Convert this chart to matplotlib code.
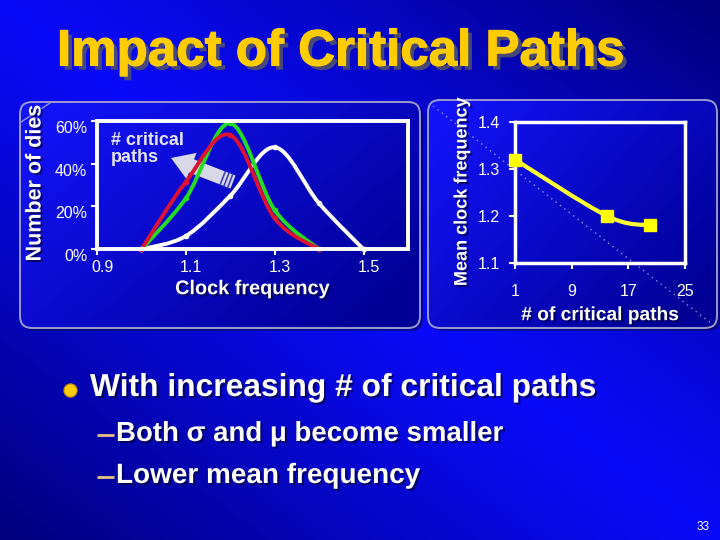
import numpy as np
import matplotlib
matplotlib.use("Agg")
import matplotlib.pyplot as plt
from matplotlib.patches import FancyBboxPatch, Polygon, PathPatch
from matplotlib.path import Path
from matplotlib.transforms import ScaledTranslation
import matplotlib.patheffects as pe

# ---------------- data ----------------
freq = [1.0, 1.1, 1.2, 1.3, 1.4, 1.5]
dies_white = [0, 6.2, 25.0, 47.6, 21.4, 0]      # 1 critical path
freq_short = [1.0, 1.1, 1.2, 1.3, 1.4]
dies_green = [0, 23.8, 58.8, 18.3, 0]
dies_red = [0, 31.5, 53.3, 14.4, 0]
left_xticks = [0.9, 1.1, 1.3, 1.5]
left_yticks = [0, 20, 40, 60]
left_yticklabels = ["0%", "20%", "40%", "60%"]

n_paths = [1, 14, 20]
mean_freq = [1.32, 1.20, 1.18]
right_xticks = [1, 9, 17, 25]
right_yticks = [1.1, 1.2, 1.3, 1.4]

title = "Impact of Critical Paths"
bullet = "With increasing # of critical paths"
sub1 = "Both \u03c3 and \u03bc become smaller"
sub2 = "Lower mean frequency"

W, H = 720, 540
fig = plt.figure(figsize=(7.2, 5.4), dpi=100)
SANS = ["Liberation Sans", "DejaVu Sans"]
plt.rcParams["font.family"] = SANS

# ---------------- background ----------------
bg = fig.add_axes([0, 0, 1, 1])
bg.set_xlim(0, W)
bg.set_ylim(H, 0)
bg.set_axis_off()
yy, xx = np.mgrid[0:H, 0:W]
d = np.abs(yy / H - xx / W)
bright = np.array([10, 10, 250]) / 255
dark = np.array([0, 0, 125]) / 255
t = np.clip(d, 0, 1) ** 1.1
img = bright[None, None, :] * (1 - t[..., None]) + dark[None, None, :] * t[..., None]
bg.imshow(img, extent=[0, W, H, 0], aspect="auto", zorder=0)


def panel(x0, y0, w, h):
    sh = FancyBboxPatch((x0 + 3, y0 + 3), w, h, boxstyle="round,pad=0,rounding_size=12",
                        fc=(0, 0, 0.25, 0.5), ec="none", zorder=1)
    bg.add_patch(sh)
    p = FancyBboxPatch((x0, y0), w, h, boxstyle="round,pad=0,rounding_size=12",
                       fc="none", ec="#9a9ad0", lw=1.4, zorder=3)
    bg.add_patch(p)
    gx = np.linspace(0, 1, 200)
    gy = np.linspace(0, 1, 100)
    GX, GY = np.meshgrid(gx, gy)
    tt = np.clip(0.65 * GX + 0.45 * GY, 0, 1)
    c0 = np.array([20, 20, 255]) / 255
    c1 = np.array([0, 0, 150]) / 255
    g = c0[None, None, :] * (1 - tt[..., None]) + c1[None, None, :] * tt[..., None]
    im = bg.imshow(g, extent=[x0, x0 + w, y0 + h, y0], aspect="auto", zorder=2)
    im.set_clip_path(p)


panel(20, 102, 400, 226)
panel(428, 100, 289, 228)

# decorative diagonals
bg.plot([433, 712], [106, 324], ls=(0, (1, 3)), color="#9090e0", lw=1.0, zorder=3)
bg.plot([21, 50], [122, 103], color="#9090e0", lw=1.0, zorder=3)

shadow = [pe.withSimplePatchShadow(offset=(1.5, -1.5), shadow_rgbFace="#000040", alpha=0.7)]


def fit(txt, width_px):
    fig.canvas.draw()
    r = fig.canvas.get_renderer()
    w = txt.get_window_extent(r).width
    txt.set_fontsize(txt.get_fontsize() * width_px / w)


# ---------------- title ----------------
tt_ = bg.text(57, 52, title, color="#FFCC00", fontsize=38, fontweight="bold",
              va="center", ha="left", zorder=5,
              path_effects=[pe.withSimplePatchShadow(offset=(3, -3), shadow_rgbFace="#505070", alpha=0.9),
                            pe.withStroke(linewidth=0.8, foreground="#FFCC00")])
fit(tt_, 566)

# ---------------- left chart ----------------
ax1 = fig.add_axes([97 / W, 1 - 249.3 / H, 311 / W, 128.6 / H])
ax1.set_facecolor("none")
ax1.set_xlim(0.9, 1.6)
ax1.set_ylim(0, 60)
for s in ax1.spines.values():
    s.set_color("white")
    s.set_linewidth(2.8)
ax1.set_xticks(left_xticks)
ax1.set_xticklabels([f"{v:.1f}" for v in left_xticks])
ax1.set_yticks(left_yticks)
ax1.set_yticklabels(left_yticklabels)
ax1.tick_params(colors="white", length=4, width=1.5, direction="out", labelsize=11.5, pad=3)
for lab in ax1.get_xticklabels():
    lab.set_transform(lab.get_transform() + ScaledTranslation(5 / 100, -1 / 100, fig.dpi_scale_trans))
for lab in ax1.get_yticklabels():
    lab.set_transform(lab.get_transform() + ScaledTranslation(0, -6 / 100, fig.dpi_scale_trans))
ax1.set_xlabel("Clock frequency", color="white", fontsize=14.3, fontweight="bold", labelpad=3)
ax1.xaxis.label.set_path_effects(shadow)


def smooth_path(xs, ys):
    xs = np.asarray(xs, float)
    ys = np.asarray(ys, float)
    P = np.column_stack([xs, ys])
    n = len(P)
    verts = [P[0]]
    codes = [Path.MOVETO]
    for i in range(n - 1):
        p0 = P[i - 1] if i > 0 else P[i]
        p1 = P[i]
        p2 = P[i + 1]
        p3 = P[i + 2] if i + 2 < n else P[i + 1]
        c1 = p1 + (p2 - p0) / 6.0
        c2 = p2 - (p3 - p1) / 6.0
        verts += [c1, c2, p2]
        codes += [Path.CURVE4] * 3
    return Path(verts, codes)


for xs, ys, col in [(freq, dies_white, "white"), (freq_short, dies_green, "#22dd22"),
                    (freq_short, dies_red, "#dd1133")]:
    ax1.add_patch(PathPatch(smooth_path(xs, ys), fc="none", ec=col, lw=2.8,
                            transform=ax1.transData, clip_on=False, capstyle="round"))
    ax1.plot(xs, ys, ls="none", marker="o", ms=3, color=col, clip_on=False)

fig.text(35 / W, 1 - 183 / H, "Number of dies", rotation=90, color="white", fontsize=15.5,
         fontweight="bold", ha="center", va="center", path_effects=shadow)

# arrow annotation
tip = np.array([171.0, 158.0])
tail = np.array([233.0, 182.0])
u = (tail - tip) / np.linalg.norm(tail - tip)
nrm = np.array([-u[1], u[0]])
hl, hw, sw = 22, 14, 7
pts = [tip, tip + u * hl + nrm * hw, tip + u * hl + nrm * sw, tail + nrm * sw,
       tail - nrm * sw, tip + u * hl - nrm * sw, tip + u * hl - nrm * hw]
bg.add_patch(Polygon(pts, closed=True, fc="#d8d8e8", ec="none", zorder=6))
for k in (3, 7, 11):
    a = tail - u * k + nrm * sw
    b = tail - u * k - nrm * sw
    bg.plot([a[0], b[0]], [a[1], b[1]], color="#4040c0", lw=1.2, zorder=7)
bg.text(111, 132, "# critical\npaths", color="#e4e4f4", fontsize=13, fontweight="bold",
        ha="left", va="top", linespacing=1.0, zorder=7)

# ---------------- right chart ----------------
ax2 = fig.add_axes([515 / W, 1 - 263 / H, 170 / W, 141 / H])
ax2.set_facecolor("none")
ax2.set_xlim(1, 25)
ax2.set_ylim(1.1, 1.4)
for s in ax2.spines.values():
    s.set_color("white")
    s.set_linewidth(2.5)
ax2.set_xticks(right_xticks)
ax2.set_xticklabels([str(v) for v in right_xticks])
ax2.set_yticks(right_yticks)
ax2.set_yticklabels([f"{v:.1f}" for v in right_yticks])
ax2.tick_params(colors="white", length=4, width=1.5, direction="out", labelsize=11.5)
ax2.tick_params(axis="x", pad=11)
ax2.tick_params(axis="y", pad=7)
ax2.add_patch(PathPatch(smooth_path(n_paths, mean_freq), fc="none", ec="#ffff33", lw=3,
                        transform=ax2.transData, clip_on=False))
ax2.plot(n_paths, mean_freq, ls="none", marker="s", ms=9, color="#ffff00", clip_on=False, zorder=5)
ax2.set_xlabel("# of critical paths", color="white", fontsize=13.8, fontweight="bold", labelpad=6)
ax2.xaxis.label.set_path_effects(shadow)
fig.text(462 / W, 1 - 192 / H, "Mean clock frequency", rotation=90, color="white", fontsize=13,
         fontweight="bold", ha="center", va="center", path_effects=shadow)

# ---------------- bullets ----------------
bg.plot([70], [390], marker="o", ms=9.5, color="#FFCC00", mec="#c09000", mew=0.8)
b1 = bg.text(90, 388, bullet, color="white", fontsize=19, fontweight="bold", ha="left", va="center",
             path_effects=shadow)
fit(b1, 507)
bg.plot([97, 114], [435, 435], color="#e8c080", lw=2.0, solid_capstyle="butt")
bg.plot([97, 114], [477, 477], color="#e8c080", lw=2.0, solid_capstyle="butt")
s1 = bg.text(116, 434, sub1, color="white", fontsize=16, fontweight="bold", ha="left", va="center",
             path_effects=shadow)
fit(s1, 387)
s2 = bg.text(116, 476, sub2, color="white", fontsize=16, fontweight="bold", ha="left", va="center",
             path_effects=shadow)
fit(s2, 304)
bg.text(703, 527, "33", color="white", fontsize=8.5, ha="center", va="center")

fig.savefig("out.png", dpi=100)
